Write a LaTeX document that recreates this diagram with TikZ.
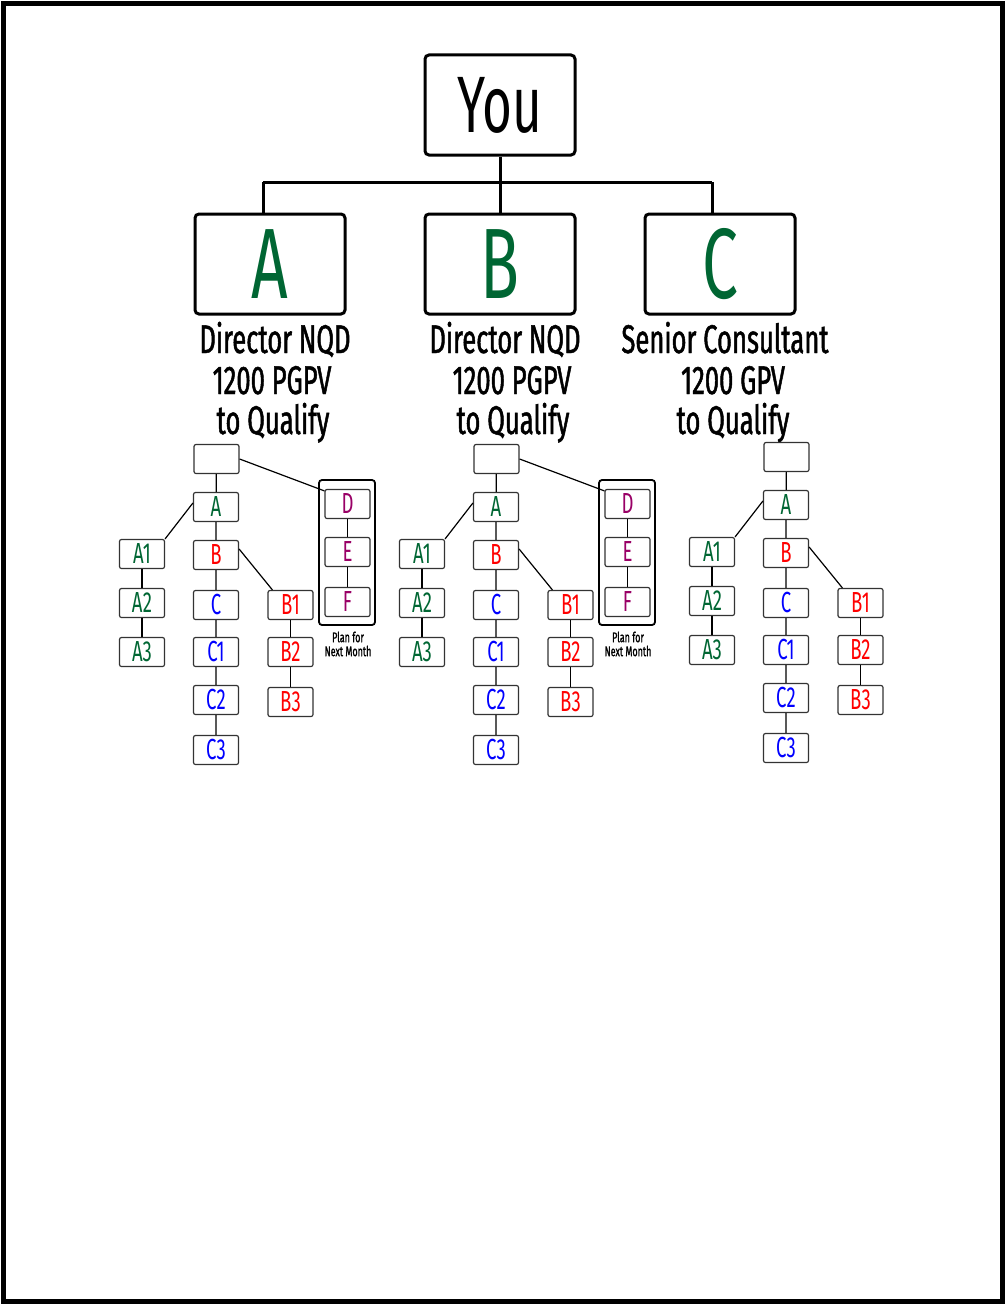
\documentclass[tikz,border=0pt]{standalone}
\usepackage{fontspec}
\setmainfont[FakeStretch=0.64]{Fira Sans}
\newfontfamily\rankfont[FakeStretch=0.64,FakeBold=1.2]{Fira Sans}
\definecolor{lvgreen}{RGB}{0,102,51}
\definecolor{lvred}{RGB}{255,0,0}
\definecolor{lvblue}{RGB}{0,0,255}
\definecolor{lvpurple}{RGB}{153,0,102}
\begin{document}
\begin{tikzpicture}[x=1pt,y=-1pt,
  bigbox/.style={draw, line width=3pt, rounded corners=4pt, minimum width=150pt, minimum height=100pt, inner sep=0pt},
  smallbox/.style={draw=black!80, line width=1.2pt, rounded corners=2pt, minimum width=45pt, minimum height=29pt, inner sep=0pt, font=\fontsize{29}{29}\selectfont},
  rank/.style={anchor=base, font=\rankfont\fontsize{40}{40}\selectfont},
  link/.style={line width=1.2pt},
  bus/.style={line width=3pt}]
  \useasboundingbox (0,0) rectangle (1006,1306);
  % Frame
  \draw[line width=5pt] (3.5,3.5) rectangle (1002.5,1301.5);

  % Top level
  \node[bigbox, font=\fontsize{80}{80}\selectfont] (you) at (500,105) {You};
  \node[bigbox, text=lvgreen, font=\fontsize{100}{100}\selectfont] (legA) at (270,264) {A};
  \node[bigbox, text=lvgreen, font=\fontsize{100}{100}\selectfont] (legB) at (500,264) {B};
  \node[bigbox, text=lvgreen, font=\fontsize{100}{100}\selectfont] (legC) at (720,264) {C};
  \coordinate (busA) at (263,182);
  \coordinate (busC) at (712,182);
  \draw[bus] (you.south) -- (legB.north);
  \draw[bus] (busA) -- (busC);
  \draw[bus] (busA) -- (busA |- legA.north);
  \draw[bus] (busC) -- (busC |- legC.north);

  % Ranks
  \node[rank] (rA1) at (275,353) {Director NQD};
  \node[rank] (rA2) at (272,394) {1200 PGPV};
  \node[rank] (rA3) at (273,434) {to Qualify};
  \node[rank] (rB1) at (505,353) {Director NQD};
  \node[rank] (rB2) at (512,394) {1200 PGPV};
  \node[rank] (rB3) at (513,434) {to Qualify};
  \node[rank] (rC1) at (725,353) {Senior Consultant};
  \node[rank] (rC2) at (733,394) {1200 GPV};
  \node[rank] (rC3) at (733,434) {to Qualify};

  % Small trees
  \foreach \t/\dx/\dy in {1/0/0, 2/280/0, 3/570/-2} {
    \begin{scope}[shift={(\dx,\dy)}]
      \node[smallbox] (t\t-top) at (216.5,459) {};
      \node[smallbox, text=lvgreen] (t\t-A) at (216,507) {A};
      \node[smallbox, text=lvred] (t\t-B) at (216,555) {B};
      \node[smallbox, text=lvblue] (t\t-C) at (216,605) {C};
      \node[smallbox, text=lvblue] (t\t-C1) at (216,652) {C1};
      \node[smallbox, text=lvblue] (t\t-C2) at (216,700) {C2};
      \node[smallbox, text=lvblue] (t\t-C3) at (216,750) {C3};
      \node[smallbox, text=lvgreen] (t\t-A1) at (142,554) {A1};
      \node[smallbox, text=lvgreen] (t\t-A2) at (142,603) {A2};
      \node[smallbox, text=lvgreen] (t\t-A3) at (142,652) {A3};
      \node[smallbox, text=lvred] (t\t-B1) at (290.5,605) {B1};
      \node[smallbox, text=lvred] (t\t-B2) at (290.5,652) {B2};
      \node[smallbox, text=lvred] (t\t-B3) at (290.5,702) {B3};
      \draw[link] (t\t-top) -- (t\t-A) -- (t\t-B) -- (t\t-C) -- (t\t-C1) -- (t\t-C2) -- (t\t-C3);
      \draw[link] (t\t-A1) -- (t\t-A2) -- (t\t-A3);
      \draw[link] (t\t-B1) -- (t\t-B2) -- (t\t-B3);
      \draw[link] ([yshift=4pt]t\t-A.west) -- (t\t-A1.north east);
      \draw[link] ([yshift=6pt]t\t-B.east) -- ([xshift=5pt]t\t-B1.north west);
      \ifnum\t<3
        \node[smallbox, text=lvpurple] (t\t-D) at (347.5,504) {D};
        \node[smallbox, text=lvpurple] (t\t-E) at (347.5,552) {E};
        \node[smallbox, text=lvpurple] (t\t-F) at (347.5,602) {F};
        \draw[line width=1.8pt, rounded corners=3pt] (319,480) rectangle (375,625);
        \node[align=center, font=\rankfont\fontsize{14}{14}\selectfont] (t\t-plan) at (348,644) {Plan for\\Next Month};
        \draw[link] (t\t-D) -- (t\t-E) -- (t\t-F);
        \draw[link] (t\t-top.east) -- ([yshift=-2pt]t\t-D.north west);
      \fi
    \end{scope}
  }
\end{tikzpicture}
\end{document}
